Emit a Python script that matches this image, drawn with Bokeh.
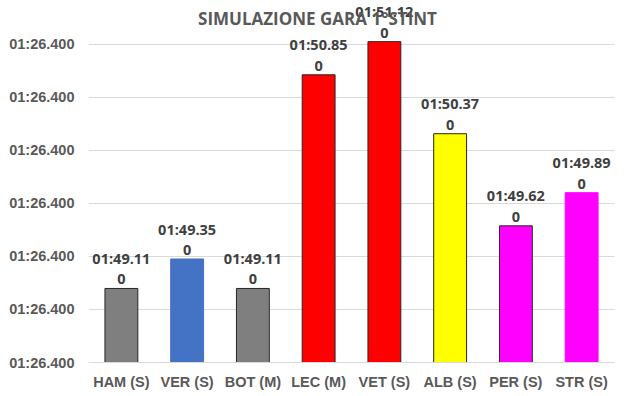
from bokeh.plotting import figure
from bokeh.models import ColumnDataSource, FixedTicker, Label
from bokeh.core.properties import value
from bokeh.embed import file_html
from bokeh.resources import INLINE

# ---- data ----
drivers = ["HAM (S)", "VER (S)", "BOT (M)", "LEC (M)", "VET (S)", "ALB (S)", "PER (S)", "STR (S)"]
lap_seconds = [109.11, 109.35, 109.11, 110.85, 111.12, 110.37, 109.62, 109.89]
bar_colors = ["#7F7F7F", "#4472C4", "#7F7F7F", "#FF0000", "#FF0000", "#FFFF00", "#FF00FF", "#FF00FF"]
bar_edges = ["#262626", "#4472C4", "#262626", "#262626", "#262626", "#262626", "#262626", "#FF00FF"]
y_ticks = [108.507, 108.939, 109.371, 109.803, 110.235, 110.667, 111.099]
y_tick_label = "01:26.400"
title_text = "SIMULAZIONE GARA 1°STINT"

y_min = y_ticks[0]
y_max = 111.455


def fmt(v):
    m = int(v // 60)
    s = v - 60 * m
    return f"{m:02d}:{s:05.2f}\n0"


labels = [fmt(v) for v in lap_seconds]

src = ColumnDataSource(dict(x=drivers, top=lap_seconds, fill=bar_colors, edge=bar_edges, lab=labels))

p = figure(x_range=drivers, y_range=(y_min, y_max), width=624, height=396,
           output_backend="svg", toolbar_location=None,
           min_border_left=88, min_border_right=10, min_border_top=0, min_border_bottom=34)

p.vbar(x="x", top="top", bottom=y_min, width=0.5, source=src,
       fill_color="fill", line_color="edge", line_width=1)

p.text(x="x", y="top", text="lab", source=src, text_align="center", text_baseline="bottom",
       y_offset=0, text_font=value("Open Sans"), text_font_style="bold",
       text_font_size="14.5px", text_color="#404040", text_line_height=1.07)

p.add_layout(Label(x=229, y=344.5, x_units="screen", y_units="screen", text=title_text,
                   text_align="center", text_baseline="middle", text_font="Open Sans",
                   text_font_style="bold", text_font_size="17px", text_color="#595959"))

p.background_fill_color = "white"
p.border_fill_color = "white"
p.outline_line_color = None
p.xgrid.grid_line_color = None
p.ygrid.grid_line_color = "#D9D9D9"
p.ygrid.grid_line_width = 1

p.yaxis.ticker = FixedTicker(ticks=y_ticks)
p.yaxis.major_label_overrides = {t: y_tick_label for t in y_ticks}
p.yaxis.axis_line_color = None
p.yaxis.major_tick_line_color = None
p.yaxis.minor_tick_line_color = None
p.yaxis.major_label_standoff = 8
p.yaxis.major_label_text_font = "Liberation Sans"
p.yaxis.major_label_text_font_style = "bold"
p.yaxis.major_label_text_font_size = "14.5px"
p.yaxis.major_label_text_color = "#595959"

p.xaxis.axis_line_color = "#D9D9D9"
p.xaxis.major_tick_line_color = None
p.xaxis.minor_tick_line_color = None
p.xaxis.major_label_standoff = 5
p.xaxis.major_label_text_font = "Liberation Sans"
p.xaxis.major_label_text_font_style = "bold"
p.xaxis.major_label_text_font_size = "14.5px"
p.xaxis.major_label_text_color = "#595959"
p.x_range.range_padding = 0

open("out.html", "w").write(file_html(p, INLINE))
